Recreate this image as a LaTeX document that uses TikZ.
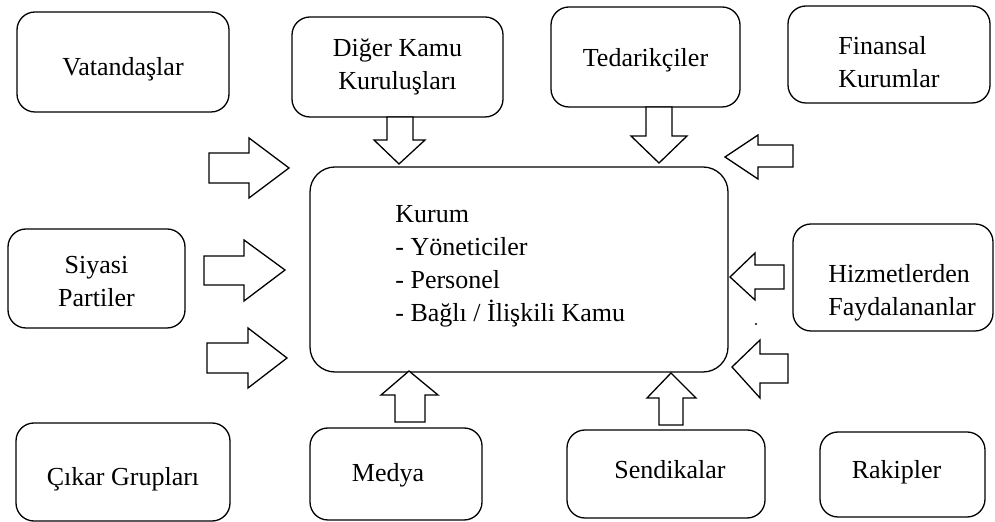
\documentclass[tikz,border=0pt]{standalone}
\usepackage{fontspec}
\setmainfont{Liberation Serif}
\begin{document}
\begin{tikzpicture}[x=0.5pt,y=-0.5pt,
  lbl/.style={font=\fontsize{13}{16.5}\selectfont},
  box/.style={draw, line width=0.65pt, rounded corners=9pt, inner sep=0pt, align=center, lbl},
  txt/.style={inner sep=0pt, align=left, lbl},
  barrow/.style={draw, line width=0.65pt, fill=white, line join=miter}]
\useasboundingbox (0,0) rectangle (995,522);
% stakeholder boxes
\node[box, minimum width=106pt, minimum height=50pt, label={[lbl,yshift=-3.5pt]center:Vatandaşlar}] (vat) at (123,62) {};
\node[box, minimum width=105.5pt, minimum height=50pt] (dkk) at (397.5,67) {Diğer Kamu\\Kuruluşları};
\node[box, minimum width=94.5pt, minimum height=50pt, label={[lbl,yshift=-1.5pt]center:Tedarikçiler}] (ted) at (645.5,57) {};
\node[box, minimum width=101pt, minimum height=48.5pt] (fin) at (889,54.5) {};
\node[txt, anchor=north west] (fintxt) at (838,36) {Finansal\\Kurumlar};
\node[box, minimum width=88.5pt, minimum height=49.5pt, label={[lbl,align=center,yshift=-1.5pt]center:Siyasi\\Partiler}] (siy) at (96.5,278.5) {};
\node[box, minimum width=100pt, minimum height=53.5pt] (hiz) at (893,277.5) {};
\node[txt, anchor=north west] (hiztxt) at (828,264) {Hizmetlerden\\Faydalananlar};
\node[box, minimum width=107pt, minimum height=49pt, label={[lbl,yshift=-3.5pt]center:Çıkar Grupları}] (cik) at (123,472) {};
\node[box, minimum width=86pt, minimum height=46pt, label={[lbl,xshift=-4pt,yshift=-0.5pt]center:Medya}] (med) at (396,474) {};
\node[box, minimum width=99pt, minimum height=44pt, label={[lbl,xshift=2pt,yshift=2pt]center:Sendikalar}] (sen) at (666,474) {};
\node[box, minimum width=82.5pt, minimum height=42.5pt, label={[lbl,xshift=-3pt,yshift=1pt]center:Rakipler}] (rak) at (902.5,474.5) {};
% central box
\node[box, rounded corners=12.5pt, minimum width=209pt, minimum height=102.5pt] (kur) at (519,269.5) {};
\node[txt, anchor=north west] (kurtxt) at (395,205) {Kurum\\- Yöneticiler\\- Personel\\- Bağlı / İlişkili Kamu};
% block arrows
\draw[barrow] (387,117) -- (413,117) -- (413,140) -- (425,140) -- (399,164) -- (374,140) -- (387,140) -- cycle;
\draw[barrow] (646,107) -- (672,107) -- (672,136) -- (687,136) -- (659,163) -- (631,136) -- (646,136) -- cycle;
\draw[barrow] (793,145) -- (758,145) -- (758,135) -- (725,157) -- (758,179) -- (758,167) -- (793,167) -- cycle;
\draw[barrow] (784,265) -- (755,265) -- (755,253) -- (730,277) -- (755,300) -- (755,289) -- (784,289) -- cycle;
\draw[barrow] (788,354) -- (760,354) -- (760,340) -- (732,367) -- (760,398) -- (760,383) -- (788,383) -- cycle;
\draw[barrow] (395,422) -- (425,422) -- (425,395) -- (438,395) -- (409,371) -- (381,395) -- (395,395) -- cycle;
\draw[barrow] (659,425) -- (683,425) -- (683,398) -- (696,398) -- (671,373) -- (647,398) -- (659,398) -- cycle;
\draw[barrow] (209,153) -- (249,153) -- (249,138) -- (289,168) -- (249,198) -- (249,183) -- (209,183) -- cycle;
\draw[barrow] (204,256) -- (244,256) -- (244,240) -- (285,270) -- (244,301) -- (244,285) -- (204,285) -- cycle;
\draw[barrow] (207,343) -- (248,343) -- (248,328) -- (287,358) -- (248,388) -- (248,373) -- (207,373) -- cycle;
\fill (756,324) circle (0.6pt);
\end{tikzpicture}
\end{document}
